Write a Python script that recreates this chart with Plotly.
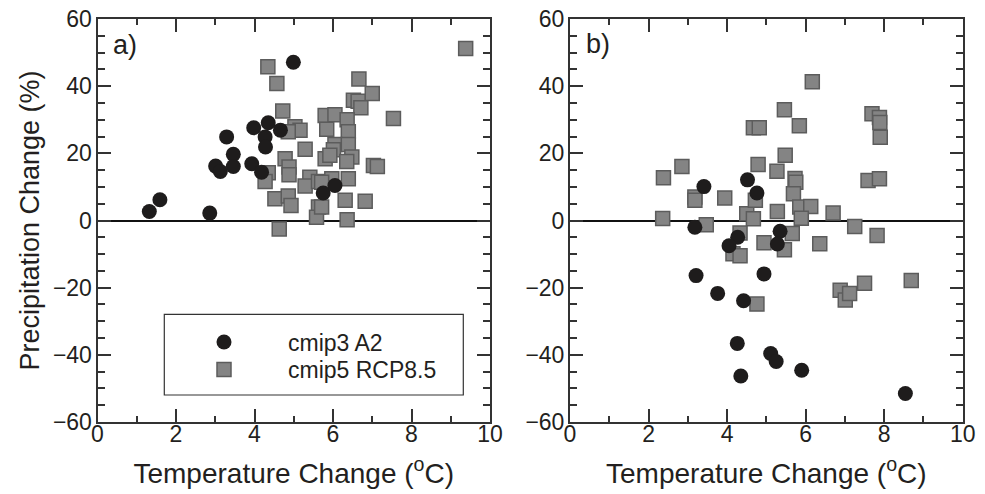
import plotly.graph_objects as go

# ---- Data ----
# Panel a) cmip3 A2 (circles)
a_cmip3_t = [1.32, 1.59, 2.86, 3.01, 3.13, 3.29, 3.46, 3.46, 3.93, 3.98, 4.18, 4.27, 4.28, 4.35, 4.66, 4.99, 5.75, 6.05]
a_cmip3_p = [2.7, 6.2, 2.2, 16.2, 14.6, 24.9, 19.7, 16.1, 16.9, 27.6, 14.4, 24.9, 21.9, 29.1, 26.9, 47.1, 8.2, 10.4]
# Panel a) cmip5 RCP8.5 (squares)
a_cmip5_t = [4.34, 4.57, 4.72, 5.03, 5.16, 4.86, 5.29, 4.78, 4.88, 4.88, 4.35, 4.27, 5.41, 5.29, 5.63,
             4.52, 4.86, 4.93, 5.63, 5.58, 4.63, 5.80, 6.66, 7.00, 6.52, 6.64, 6.71, 7.54, 5.80, 6.05,
             6.36, 5.84, 6.39, 6.05, 6.39, 6.01, 5.92, 6.48, 6.35, 7.03, 7.13, 5.97, 6.39, 5.71, 6.31,
             6.82, 5.71, 6.36, 9.38]
a_cmip5_p = [45.8, 40.8, 32.6, 27.9, 26.9, 26.4, 21.2, 18.4, 15.9, 13.6, 14.2, 11.6, 12.9, 10.3, 11.6,
             6.5, 7.3, 4.5, 4.0, 1.0, -2.5, 18.4, 42.1, 37.8, 35.8, 35.5, 33.6, 30.4, 31.3, 31.5,
             30.0, 27.2, 26.4, 22.6, 22.6, 21.1, 19.4, 18.9, 17.6, 16.4, 16.1, 12.4, 12.4, 11.4, 6.0,
             5.7, 4.0, 0.2, 51.2]

# Panel b) cmip3 A2 (circles)
b_cmip3_t = [3.41, 4.52, 4.76, 3.18, 4.27, 4.05, 3.21, 3.76, 4.42, 4.94, 5.35, 5.28, 4.26, 4.35, 5.11, 5.25, 5.90, 8.54]
b_cmip3_p = [10.1, 12.1, 8.2, -2.0, -5.0, -7.5, -16.4, -21.7, -23.9, -15.9, -3.2, -7.0, -36.6, -46.3, -39.6, -42.0, -44.6, -51.5]
# Panel b) cmip5 RCP8.5 (squares)
b_cmip5_t = [2.38, 2.85, 3.18, 3.18, 2.36, 3.47, 3.94, 4.67, 4.82, 4.79, 4.50, 4.67, 4.72, 4.33, 4.15, 4.33,
             4.94, 4.76, 6.17, 5.46, 5.84, 7.69, 7.88, 7.89, 7.90, 5.48, 5.27, 5.73, 5.75, 5.69, 7.59,
             7.88, 5.28, 5.85, 6.13, 5.89, 6.70, 7.25, 7.82, 5.66, 6.36, 5.46, 6.88, 7.01, 7.12, 7.50, 8.69]
b_cmip5_p = [12.7, 16.1, 7.0, 6.0, 0.6, -1.3, 6.7, 27.6, 27.6, 16.7, 2.0, 0.5, 6.0, -3.7, -9.9, -10.5,
             -6.6, -24.9, 41.3, 33.0, 28.2, 31.8, 30.7, 29.2, 24.8, 19.4, 14.7, 12.5, 11.4, 8.0, 11.9,
             12.4, 2.7, 4.0, 4.2, 0.7, 2.2, -1.8, -4.5, -3.9, -6.9, -8.7, -20.8, -23.7, -21.7, -18.7, -17.9]

series_names = ["cmip3 A2", "cmip5 RCP8.5"]
panel_labels = ["a)", "b)"]
x_title = "Temperature Change (<sup>o</sup>C)"
y_title = "Precipitation Change (%)"

FONT = "Liberation Sans, Arial, sans-serif"
TXT = "#231f20"
CIRCLE = "#1e1c1c"
SQ_FILL = "#848484"
SQ_LINE = "#5c5c5c"
W, H = 985, 494

fig = go.Figure()

sq_marker = dict(symbol="square", size=14, color=SQ_FILL, line=dict(color=SQ_LINE, width=1.5))
ci_marker = dict(symbol="circle", size=15, color=CIRCLE, line=dict(width=0))

fig.add_trace(go.Scatter(x=a_cmip5_t, y=a_cmip5_p, mode="markers", marker=sq_marker,
                         name=series_names[1], legend="legend2", xaxis="x", yaxis="y"))
fig.add_trace(go.Scatter(x=a_cmip3_t, y=a_cmip3_p, mode="markers", marker=ci_marker,
                         name=series_names[0], legend="legend", xaxis="x", yaxis="y"))
fig.add_trace(go.Scatter(x=b_cmip5_t, y=b_cmip5_p, mode="markers", marker=sq_marker,
                         name=series_names[1], showlegend=False, xaxis="x2", yaxis="y2"))
fig.add_trace(go.Scatter(x=b_cmip3_t, y=b_cmip3_p, mode="markers", marker=ci_marker,
                         name=series_names[0], showlegend=False, xaxis="x2", yaxis="y2"))

axcol = "#333333"

def xax(domain, anchor):
    return dict(domain=domain, anchor=anchor, range=[0, 10], dtick=2, tick0=0,
                ticks="inside", ticklen=13, tickwidth=2, tickcolor=axcol,
                minor=dict(dtick=1, ticks="inside", ticklen=6, tickwidth=1.5, tickcolor=axcol),
                showline=True, linecolor=axcol, linewidth=2, mirror="ticks",
                showgrid=False, zeroline=False, ticklabelstandoff=-10,
                tickfont=dict(family=FONT, size=23, color=TXT),
                title=dict(text=x_title, font=dict(family=FONT, size=28, color=TXT), standoff=18))

def yax(domain, anchor, title):
    d = dict(domain=domain, anchor=anchor, range=[-60, 60], dtick=20, tick0=0,
             ticks="inside", ticklen=13, tickwidth=2, tickcolor=axcol,
             minor=dict(dtick=5, ticks="inside", ticklen=7, tickwidth=1.5, tickcolor=axcol),
             showline=True, linecolor=axcol, linewidth=2, mirror="ticks",
             showgrid=False, zeroline=True, zerolinecolor="#111111", zerolinewidth=1.5,
             ticklabelstandoff=-1,
             tickfont=dict(family=FONT, size=23, color=TXT))
    if title:
        d["title"] = dict(text=title, font=dict(family=FONT, size=27, color=TXT), standoff=5)
    return d

leg_common = dict(xanchor="left", yanchor="middle", bgcolor="rgba(0,0,0,0)", borderwidth=0,
                  itemwidth=118, font=dict(family=FONT, size=23, color=TXT))

ydom = [72 / H, 475 / H]
fig.update_layout(
    template="none",
    width=W, height=H,
    margin=dict(l=0, r=0, t=0, b=0),
    paper_bgcolor="white", plot_bgcolor="white",
    xaxis=xax([97.5 / W, 490 / W], "y"),
    yaxis=yax(ydom, "x", y_title),
    xaxis2=xax([570 / W, 962.7 / W], "y2"),
    yaxis2=yax(ydom, "x2", None),
    showlegend=True,
    legend=dict(x=160 / W, y=1 - 342 / H, **leg_common),
    legend2=dict(x=160 / W, y=1 - 369.5 / H, **leg_common),
    shapes=[dict(type="rect", xref="paper", yref="paper",
                 x0=164.3 / W, x1=463.3 / W, y0=1 - 395 / H, y1=1 - 314.3 / H,
                 line=dict(color=axcol, width=1.2), fillcolor="rgba(0,0,0,0)")],
    annotations=[
        dict(text=panel_labels[0], xref="paper", yref="paper", x=111 / W, y=1 - 45 / H,
             xanchor="left", yanchor="middle", showarrow=False,
             font=dict(family=FONT, size=27, color=TXT)),
        dict(text=panel_labels[1], xref="paper", yref="paper", x=584 / W, y=1 - 44 / H,
             xanchor="left", yanchor="middle", showarrow=False,
             font=dict(family=FONT, size=27, color=TXT)),
    ],
)

fig.write_html("out.html")
